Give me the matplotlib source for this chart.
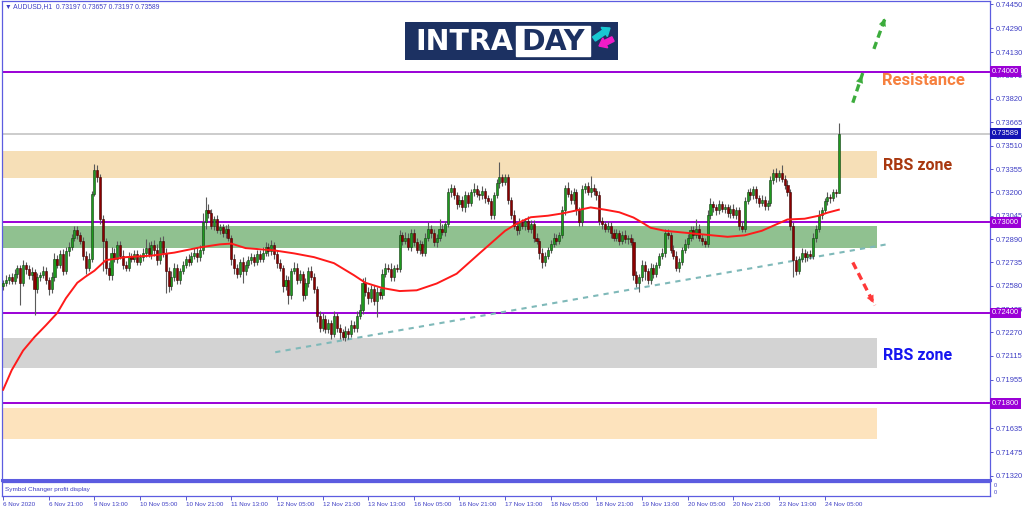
import matplotlib.pyplot as plt
import matplotlib.patches as mpatches
import numpy as np

# AUDUSD H1 candles, prices in 1e-5 units
first_open = 72580
close_pts = [
    72600, 72620, 72640, 72610, 72660, 72700, 72600,
    72720, 72690, 72650, 72670, 72560, 72640,
    72650, 72680, 72620, 72560, 72640,
    72760, 72720, 72790, 72680, 72810, 72840, 72900,
    72950, 72920, 72880, 72780, 72700, 72760,
    73190, 73350, 73300, 73020, 72880, 72700, 72650,
    72800, 72760, 72850, 72780, 72720, 72700,
    72780, 72760, 72790, 72740, 72770,
    72800, 72830, 72790, 72850, 72820, 72750, 72880, 72800,
    72680, 72580, 72640, 72700, 72620, 72680,
    72720, 72760, 72740, 72780, 72800, 72770, 72820,
    73000, 73080, 73060, 72980, 73020, 72950, 72970,
    72930, 72960, 72900, 72760,
    72700, 72660, 72740, 72680, 72720,
    72750, 72770, 72740, 72790, 72760,
    72800, 72840, 72810, 72850, 72790,
    72730, 72700, 72580,
    72620, 72520, 72680,
    72700, 72620, 72660, 72520,
    72600, 72680, 72640, 72560, 72380,
    72300, 72360, 72290,
    72330, 72260, 72380, 72300, 72270,
    72240, 72280, 72260,
    72320, 72300, 72380, 72420,
    72600, 72540, 72500, 72560,
    72480, 72540, 72520, 72660,
    72700, 72690, 72640, 72700, 72690,
    72920,
    72880, 72900, 72840, 72930, 72870,
    72820, 72860, 72800, 72900, 72960, 72930, 72870,
    72900, 72960, 72940, 72990,
    73200, 73230, 73180,
    73120, 73150, 73100, 73180, 73130, 73200,
    73220, 73190, 73180, 73210, 73160, 73140,
    73050, 73180,
    73260, 73300, 73270, 73300,
    73150, 73050, 72980, 72950,
    73000, 72980, 73010, 72960, 72990,
    72900, 72880, 72800,
    72740, 72780, 72820,
    72860, 72900, 72880, 72920,
    73080, 73230, 73190,
    73150, 73200, 73080, 73000, 73220,
    73240, 73200, 73230, 73210, 73180,
    73010, 72990, 72960, 72980, 72930,
    72900, 72930, 72880, 72920, 72890, 72900, 72870,
    72650, 72600, 72640,
    72720, 72680, 72620, 72700, 72660, 72720,
    72780, 72800, 72930,
    72920, 72820, 72780,
    72700, 72740, 72820, 72860, 72900,
    72950, 72920, 72960, 72900, 72880, 72860,
    73050, 73120, 73100,
    73080, 73120, 73090, 73100,
    73060, 73090, 73050, 73080, 72980, 72960,
    73140, 73200, 73180, 73220,
    73160, 73130, 73150, 73110, 73130,
    73280, 73330, 73300, 73330, 73290,
    73250, 73200, 72980,
    72750, 72680, 72760,
    72800, 72770, 72790, 72780,
    72900, 72960, 73050, 73080,
    73140, 73170, 73160, 73200, 73197,
    73589,
]
wick_up = [
    20, 30, 15, 25, 30, 20, 15,
    30, 20, 25, 35, 20, 25,
    20, 30, 25, 20, 30,
    40, 25, 30, 35, 25, 30, 25,
    30, 25, 20, 25, 30, 40,
    20, 40, 30, 25, 30, 20, 40,
    40, 30, 25, 30, 35, 25,
    25, 20, 30, 25, 20,
    30, 60, 40, 30, 35, 40, 25, 30,
    30, 25, 40, 30, 25, 20,
    25, 20, 30, 25, 30, 40, 30,
    60, 90, 40, 30, 25, 30, 20,
    20, 25, 30, 20,
    30, 25, 20, 30, 25,
    25, 30, 20, 25, 30,
    40, 30, 25, 35, 20,
    25, 30, 20,
    30, 25, 20,
    40, 30, 25, 20,
    30, 25, 30, 25, 20,
    30, 40, 25,
    30, 25, 30, 20, 25,
    25, 30, 20,
    30, 25, 30, 40,
    30, 40, 30, 25,
    25, 30, 25, 30,
    30, 25, 40, 20, 25,
    30,
    20, 40, 30, 25, 30,
    30, 25, 20, 30, 40, 25, 30,
    25, 60, 30, 20,
    30, 25, 20,
    20, 30, 25, 30, 20, 25,
    40, 30, 25, 30, 20, 25,
    25, 20,
    30, 100, 20, 25,
    25, 20, 30, 25,
    30, 25, 20, 30, 25,
    25, 30, 20,
    30, 25, 20,
    25, 30, 25, 20,
    30, 20, 40,
    25, 30, 20, 25, 30,
    20, 30, 80, 25, 20,
    30, 25, 20, 30, 25,
    25, 30, 20, 25, 30, 20, 25,
    25, 30, 20,
    30, 25, 20, 30, 25, 20,
    20, 30, 25,
    25, 20, 30,
    30, 25, 20, 30, 25,
    30, 25, 60, 30, 25, 20,
    30, 40, 25,
    25, 30, 20, 25,
    20, 25, 30, 20, 25, 30,
    30, 25, 30, 20,
    25, 20, 30, 25, 20,
    30, 25, 30, 20, 50,
    25, 30, 20,
    25, 30, 20,
    30, 25, 20, 30,
    30, 25, 30, 20,
    25, 30, 20, 25, 20,
    68,
]
wick_dn = [
    25, 20, 30, 20, 15, 30, 150,
    20, 30, 25, 30, 176, 25,
    25, 20, 30, 40, 25,
    30, 25, 20, 30, 25, 30, 20,
    25, 30, 20, 30, 40, 25,
    20, 15, 30, 30, 200, 40, 30,
    30, 25, 30, 20, 30, 25,
    20, 25, 20, 25, 20,
    25, 30, 20, 30, 40, 30, 25, 30,
    150, 40, 30, 25, 30, 25,
    20, 25, 30, 20, 25, 30, 25,
    30, 40, 30, 25, 30, 20, 25,
    25, 30, 20, 40,
    40, 30, 25, 80, 30,
    20, 25, 30, 20, 25,
    25, 20, 30, 25, 30,
    30, 25, 40,
    30, 60, 25,
    25, 30, 20, 40,
    25, 30, 20, 30, 40,
    30, 20, 25,
    25, 30, 20, 25, 40,
    20, 25, 30,
    20, 30, 25, 20,
    30, 25, 40, 30,
    30, 110, 30, 25,
    25, 20, 30, 25, 20,
    20,
    30, 25, 20, 30, 25,
    25, 30, 25, 20, 25, 30, 25,
    30, 25, 20, 30,
    20, 30, 25,
    30, 20, 25, 30, 25, 20,
    25, 20, 30, 25, 30, 20,
    30, 25,
    20, 30, 25, 20,
    30, 25, 20, 30,
    25, 20, 30, 25, 30,
    30, 25, 40,
    40, 30, 25,
    20, 25, 30, 25,
    25, 30, 20,
    30, 25, 30, 20, 25,
    25, 20, 30, 25, 30,
    25, 30, 25, 20, 30,
    20, 25, 30, 20, 25, 30, 20,
    30, 25, 60,
    25, 60, 30, 25, 30, 25,
    25, 20, 30,
    30, 25, 20,
    25, 30, 20, 25, 30,
    25, 30, 20, 25, 30, 25,
    20, 25, 30,
    30, 25, 20, 30,
    25, 30, 20, 25, 30, 20,
    25, 20, 30, 25,
    30, 25, 20, 25, 30,
    20, 25, 30, 25, 20,
    30, 25, 30,
    110, 30, 25,
    25, 30, 25, 20,
    25, 30, 20, 25,
    20, 25, 30, 20, 25,
    0,
]

# moving average, sampled at bar indices
ma_idx = [0, 3, 7, 11, 15, 19, 22, 26, 29, 32, 36, 43, 52, 60, 69, 76, 80, 85, 95, 102,
          109, 116, 123, 127, 133, 139, 145, 152, 159, 167, 173, 176, 179, 182, 185, 191,
          196, 201, 206, 211, 216, 221, 224, 227, 232, 243, 254, 260, 266, 272, 275, 281,
          286, 289, 293]
ma_pts = [71890, 72020, 72150, 72240, 72318, 72400, 72497, 72600, 72642, 72680, 72750,
          72770, 72780, 72800, 72835, 72855, 72860, 72830, 72815, 72795, 72770, 72730,
          72650, 72600, 72565, 72545, 72550, 72595, 72660, 72795, 72895, 72945, 72980,
          73010, 73035, 73045, 73060, 73080, 73100, 73085, 73068, 73033, 73000, 72965,
          72945, 72925, 72905, 72915, 72945, 72995, 73020, 73025, 73045, 73065, 73085]

trend_x = [95.4, 309.5]
trend_y = [0.72139, 0.72854]

levels = [0.74000, 0.73000, 0.72400, 0.71800]
last_price = 0.73589
# (low, high, colour)
zones = [(0.73298, 0.73477, '#f6dfb7'), (0.72834, 0.72980, '#90c190'),
         (0.72033, 0.72232, '#d3d3d3'), (0.71563, 0.71768, '#fde3bd')]

ytick_vals = [0.74450, 0.74290, 0.74130, 0.73975, 0.73820, 0.73665, 0.73510, 0.73355,
              0.73200, 0.73045, 0.72890, 0.72735, 0.72580, 0.72425, 0.72270, 0.72115,
              0.71955, 0.71635, 0.71475, 0.71320]
xtick_labels = ['6 Nov 2020', '6 Nov 21:00', '9 Nov 13:00', '10 Nov 05:00', '10 Nov 21:00',
                '11 Nov 13:00', '12 Nov 05:00', '12 Nov 21:00', '13 Nov 13:00',
                '16 Nov 05:00', '16 Nov 21:00', '17 Nov 13:00', '18 Nov 05:00',
                '18 Nov 21:00', '19 Nov 13:00', '20 Nov 05:00', '20 Nov 21:00',
                '23 Nov 13:00', '24 Nov 05:00']

BLUE = '#3d3dc4'
FRAME = '#5c5ce0'
PURPLE = '#9a00d6'
SMALL = ['Liberation Sans', 'DejaVu Sans']


def px_rect(l, t, r, b):
    return [l / 1024, 1 - b / 511, (r - l) / 1024, (b - t) / 511]


closes = np.array(close_pts) / 1e5
opens = np.r_[first_open / 1e5, closes[:-1]]
highs = np.maximum(opens, closes) + np.array(wick_up) / 1e5
lows = np.minimum(opens, closes) - np.array(wick_dn) / 1e5
x = np.arange(len(closes))

fig = plt.figure(figsize=(10.24, 5.11), dpi=100)
ax = fig.add_axes(px_rect(2, 1, 990, 480))
ax2 = fig.add_axes(px_rect(2, 482, 990, 496), sharex=ax)

zone_end = (877 - 2) / (990 - 2)
for lo, hi, col in zones:
    ax.axhspan(lo, hi, xmin=0, xmax=zone_end, color=col, lw=0, zorder=0)

for lv in levels:
    ax.axhline(lv, color=PURPLE, lw=1.4, zorder=1)
ax.axhline(last_price, color='#c4c4c4', lw=1.2, zorder=1)

ax.plot(trend_x, trend_y, color='#7fb9b9', lw=1.5, dashes=(2.5, 2.5), zorder=2)

# candles
up = closes >= opens
ax.vlines(x, lows, highs, color='#5a5a5a', lw=0.8, zorder=3)
ax.bar(x[up], (closes - opens)[up], bottom=opens[up], width=0.72,
       color='#1e9a1e', edgecolor='#123c12', lw=0.4, zorder=4)
ax.bar(x[~up], (opens - closes)[~up], bottom=closes[~up], width=0.72,
       color='#8b0000', edgecolor='#3a0000', lw=0.4, zorder=4)

ax.plot(ma_idx, np.array(ma_pts) / 1e5, color='#ff1a1a', lw=1.4, zorder=5)


def dashed_arrow(tail, head, col):
    ax.plot([tail[0], head[0]], [tail[1], head[1]], color=col, lw=2.4,
            dashes=(2.2, 1.4), zorder=6, solid_capstyle='butt')
    mid = (tail[0] + 0.75 * (head[0] - tail[0]), tail[1] + 0.75 * (head[1] - tail[1]))
    ax.annotate('', xy=head, xytext=mid, zorder=6,
                arrowprops=dict(arrowstyle='-|>', color=col, lw=0.1, mutation_scale=13))


dashed_arrow((297.9, 0.73795), (301.4, 0.73993), '#3cac3c')
dashed_arrow((305.3, 0.74152), (309.5, 0.74371), '#3cac3c')
dashed_arrow((297.9, 0.72735), (305.6, 0.72450), '#ff3838')

ax.text(308.0, 0.73940, 'Resistance', color='#f6803e', fontsize=12, fontweight='bold',
        family='Roboto', va='center', ha='left')
ax.text(308.5, 0.73377, 'RBS zone', color='#a8380f', fontsize=11.5, fontweight='bold',
        family='Roboto', va='center', ha='left')
ax.text(308.5, 0.72119, 'RBS zone', color='#1616f0', fontsize=11.5, fontweight='bold',
        family='Roboto', va='center', ha='left')

ax.set_xlim(-0.4, 346)
ax.set_ylim(0.71291, 0.74470)
ax.yaxis.tick_right()
ax.set_yticks(ytick_vals)
ax.set_yticklabels([f'{v:.5f}' for v in ytick_vals], family=SMALL)
ax.tick_params(axis='y', colors=BLUE, labelsize=5.4, length=2.5, width=0.6, pad=2)
ax.tick_params(axis='x', bottom=False, labelbottom=False)
for s in ax.spines.values():
    s.set_color(FRAME)
    s.set_linewidth(0.9)
ax.spines['bottom'].set_linewidth(2.2)

tr = ax.get_yaxis_transform()
for lv in levels:
    ax.text(1.002, lv, f'{lv:.5f}', transform=tr, color='white', fontsize=5.4,
            family=SMALL, va='center', ha='left', zorder=10,
            bbox=dict(boxstyle='square,pad=0.25', fc=PURPLE, ec='none'))
ax.text(1.002, last_price, f'{last_price:.5f}', transform=tr, color='white', fontsize=5.4,
        family=SMALL, va='center', ha='left', zorder=10,
        bbox=dict(boxstyle='square,pad=0.25', fc='#1414b4', ec='none'))

# lower indicator pane
ax2.set_yticks([])
for s in ax2.spines.values():
    s.set_color(FRAME)
    s.set_linewidth(0.9)
ax2.text(0.003, 0.5, 'Symbol Changer profit display', transform=ax2.transAxes,
         color=BLUE, fontsize=4.6, family=SMALL, va='center', ha='left')
ax2.text(1.004, 0.72, '0', transform=ax2.transAxes, color=BLUE, fontsize=4,
         family=SMALL, va='center')
ax2.text(1.004, 0.28, '0', transform=ax2.transAxes, color=BLUE, fontsize=4,
         family=SMALL, va='center')
ax2.set_xticks(np.arange(len(xtick_labels)) * 16)
ax2.set_xticklabels(xtick_labels, ha='left', family=SMALL)
ax2.tick_params(axis='x', colors=BLUE, labelsize=4.5, length=3, width=0.6, pad=1.5)

fig.text(5 / 1024, 1 - 7 / 511, '\u25bc AUDUSD,H1  0.73197 0.73657 0.73197 0.73589',
         color=BLUE, fontsize=4.9, family=SMALL, va='center', ha='left')

# logo
lg = fig.add_axes(px_rect(405, 22, 618, 60))
lg.set_xlim(0, 213)
lg.set_ylim(38, 0)
lg.axis('off')
lg.add_patch(mpatches.Rectangle((0, 0), 213, 38, color='#1c3162'))
lg.add_patch(mpatches.Rectangle((111, 4), 74, 30, color='white'))
lg.text(59, 20, 'INTRA', color='white', fontsize=20.5, fontweight='bold',
        ha='center', va='center')
lg.text(148, 20, 'DAY', color='#1c3162', fontsize=20.5, fontweight='bold',
        ha='center', va='center')
lg.add_patch(mpatches.FancyArrow(189, 17, 16, -11, width=5, head_width=11, head_length=7,
                                 color='#19c8d2', length_includes_head=True))
lg.add_patch(mpatches.FancyArrow(208, 17, -14, 7, width=5, head_width=11, head_length=7,
                                 color='#f01cc8', length_includes_head=True))

fig.savefig('out.png', dpi=100)
